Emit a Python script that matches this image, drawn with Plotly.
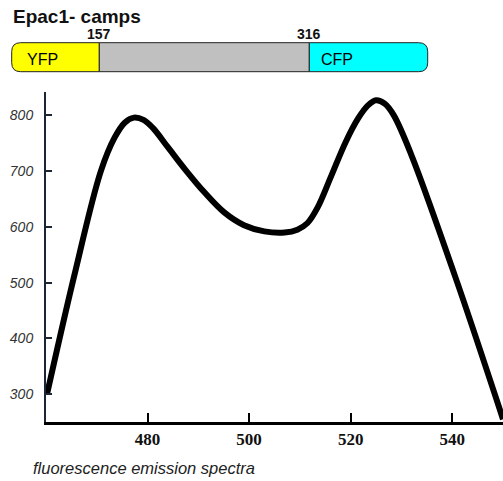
import plotly.graph_objects as go

# ---- data ----
wavelength = [460.2, 465.5, 470.8, 473.5, 475.5, 477.3, 479.2, 481.0, 484.0, 487.5,
              491.2, 495.1, 499.0, 503.0, 507.0, 509.5, 511.5, 513.5, 516.2, 519.0,
              521.5, 523.4, 525.0, 526.7, 528.5, 532.0, 541.0, 550.0]
emission = [300, 510, 700, 760, 787, 796, 792, 778, 743, 702,
            662, 626, 603, 592, 590, 595, 607, 635, 692, 752,
            795, 818, 827, 821, 800, 728, 500, 255]
x_ticks = [480, 500, 520, 540]
y_ticks = [300, 400, 500, 600, 700, 800]
domain_labels = ["YFP", "", "CFP"]
domain_colors = ["#FFFF00", "#C0C0C0", "#00FFFF"]
boundary_labels = ["157", "316"]
title_text = "Epac1- camps"
xlabel_text = "fluorescence emission spectra"

W, H = 503, 481
ML, MR, MT, MB = 46, 0, 92, 59
PW, PH = W - ML - MR, H - MT - MB


def px(x):
    return (x - ML) / PW


def py(y):
    return (H - MB - y) / PH


fig = go.Figure()
fig.add_trace(go.Scatter(
    x=wavelength, y=emission, mode="lines",
    line=dict(color="black", width=6, shape="spline", smoothing=1.0),
    hoverinfo="skip", showlegend=False))

# ---- schematic bar ----
bx = [11.7, 99.3, 309.3, 427.7]
top, bot, r = 42.7, 71.7, 9


def P(x, y):
    return f"{px(x):.5f},{py(y):.5f}"


shapes = []
x0, x1 = bx[0], bx[1]
path = (f"M{P(x1, top)} L{P(x0 + r, top)} Q{P(x0, top)} {P(x0, top + r)} "
        f"L{P(x0, bot - r)} Q{P(x0, bot)} {P(x0 + r, bot)} L{P(x1, bot)} Z")
shapes.append(dict(type="path", path=path, xref="paper", yref="paper",
                   fillcolor=domain_colors[0], line=dict(color="#222222", width=1)))
x0, x1 = bx[1], bx[2]
path = f"M{P(x0, top)} L{P(x1, top)} L{P(x1, bot)} L{P(x0, bot)} Z"
shapes.append(dict(type="path", path=path, xref="paper", yref="paper",
                   fillcolor=domain_colors[1], line=dict(color="#222222", width=1)))
x0, x1 = bx[2], bx[3]
path = (f"M{P(x0, top)} L{P(x1 - r, top)} Q{P(x1, top)} {P(x1, top + r)} "
        f"L{P(x1, bot - r)} Q{P(x1, bot)} {P(x1 - r, bot)} L{P(x0, bot)} Z")
shapes.append(dict(type="path", path=path, xref="paper", yref="paper",
                   fillcolor=domain_colors[2], line=dict(color="#222222", width=1)))

annotations = []
annotations.append(dict(text=title_text, x=px(10.5), y=py(16.5), xref="paper", yref="paper",
                        xanchor="left", yanchor="middle", showarrow=False,
                        font=dict(family="Liberation Sans, Arial", size=19, color="#111111",
                                  weight="bold")))
for lab, xb in zip(boundary_labels, [bx[1], bx[2]]):
    annotations.append(dict(text=lab, x=px(xb), y=py(34.5), xref="paper", yref="paper",
                            xanchor="center", yanchor="middle", showarrow=False,
                            font=dict(family="Liberation Sans, Arial", size=14, color="#111111",
                                      weight="bold")))
for lab, xl in zip([domain_labels[0], domain_labels[2]], [25.0, 319.0]):
    annotations.append(dict(text=lab, x=px(xl), y=py(59.5), xref="paper", yref="paper",
                            xanchor="left", yanchor="middle", showarrow=False,
                            font=dict(family="Liberation Sans, Arial", size=16, color="#000000")))
annotations.append(dict(text=xlabel_text, x=px(31), y=py(468), xref="paper", yref="paper",
                        xanchor="left", yanchor="middle", showarrow=False,
                        font=dict(family="Liberation Sans, Arial", size=16.5, color="#222222",
                                  style="italic")))

fig.update_layout(
    width=W, height=H,
    margin=dict(l=ML, r=MR, t=MT, b=MB, pad=0),
    paper_bgcolor="white", plot_bgcolor="white",
    shapes=shapes, annotations=annotations,
    showlegend=False,
    xaxis=dict(range=[460, 550], tickvals=x_ticks, ticktext=[str(v) for v in x_ticks],
               showgrid=False, zeroline=False, showline=True, linecolor="black", linewidth=3,
               ticks="inside", ticklen=9, tickwidth=2, tickcolor="black",
               ticklabelstandoff=0,
               tickfont=dict(family="Liberation Serif, Times New Roman", size=17,
                             color="#111111", weight="bold")),
    yaxis=dict(range=[250, 842], tickvals=y_ticks, ticktext=[str(v) for v in y_ticks],
               showgrid=False, zeroline=False, showline=True, linecolor="#1c2533", linewidth=2,
               ticks="inside", ticklen=6, tickwidth=2, tickcolor="#1c2533",
               ticklabelstandoff=8,
               tickfont=dict(family="Liberation Sans, Arial", size=14, color="#333333",
                             style="italic")),
)

fig.write_html("out.html")
